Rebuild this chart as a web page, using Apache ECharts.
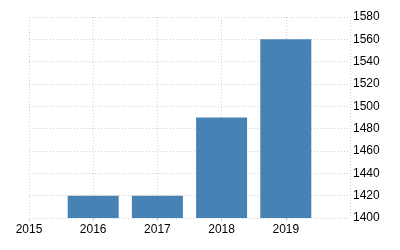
<!DOCTYPE html>
<html><head><meta charset="utf-8">
<script src="https://cdn.jsdelivr.net/npm/echarts@6/dist/echarts.min.js"></script>
<style>html,body{margin:0;padding:0;background:#fff}#c{width:400px;height:250px}</style>
</head><body><div id="c"></div>
<script>
var years = [2016, 2017, 2018, 2019];
var values = [1420, 1420, 1490, 1560];
var yTicks = {min: 1400, max: 1580, interval: 20};
var xRange = {min: 2015, max: 2020, interval: 1};

var chart = echarts.init(document.getElementById('c'), null, {renderer: 'canvas'});
var data = years.map(function (y, i) { return [y, values[i]]; });
chart.setOption({
  animation: false,
  grid: {left: 29, right: 50, top: 17, bottom: 32},
  xAxis: {
    type: 'value', min: xRange.min, max: xRange.max, interval: xRange.interval,
    axisLine: {show: false},
    axisTick: {show: true, length: 3, lineStyle: {color: '#ccc'}},
    axisLabel: {showMaxLabel: false, color: '#000', fontSize: 12, fontFamily: 'Liberation Sans', margin: 6,
      formatter: function (v) { return String(v); }},
    splitLine: {show: true, lineStyle: {color: '#d0d0d0', type: [1, 2]}}
  },
  yAxis: {
    type: 'value', position: 'right', min: yTicks.min, max: yTicks.max, interval: yTicks.interval,
    axisLine: {show: false}, axisTick: {show: false},
    axisLabel: {color: '#000', fontSize: 12, fontFamily: 'Liberation Sans', margin: 3,
      formatter: function (v) { return String(v); }},
    splitLine: {show: true, lineStyle: {color: '#d0d0d0', type: [1, 2]}}
  },
  series: [{
    type: 'bar', data: data, barWidth: 51,
    itemStyle: {color: '#4682B4'}
  }]
});
</script></body></html>
